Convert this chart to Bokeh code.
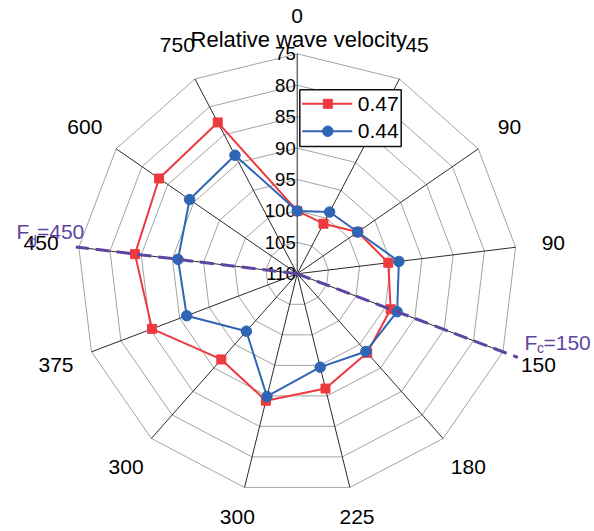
import numpy as np
from bokeh.plotting import figure
from bokeh.models import Range1d
from bokeh.embed import file_html
from bokeh.resources import INLINE
from bokeh.core.properties import value

# ---------------- data ----------------
categories = ["0", "45", "90", "90", "150", "180", "225", "300", "300", "375", "450", "600", "750"]
series_047 = [100.0, 101.0, 98.3, 95.4, 94.1, 93.2, 91.2, 89.2, 91.8, 85.3, 84.0, 83.3, 82.8]
series_044 = [100.0, 98.9, 98.3, 93.7, 93.0, 93.5, 94.7, 89.9, 97.8, 91.2, 90.9, 89.2, 88.7]
series_names = ["0.47", "0.44"]
radial_ticks = [75, 80, 85, 90, 95, 100, 105, 110]
radial_title = "Relative wave velocity"
fc_label, fc_value, fc_index = "c", "=150", 4
fd_label, fd_value, fd_index = "d", "=450", 10

# ---------------- layout / style ----------------
FONT = value("Liberation Sans")
W, H = 594, 531
CXP, CYP = 296.7, 273.3          # polar centre in page pixels
R = 220.0                         # outer radius (px)
R_OUT, R_IN = 75.0, 110.0         # reversed radial axis: 75 outside, 110 at centre
RED, BLUE = "#ee3a3e", "#2e66b5"
PURPLE = "#5f45a3"

def fx(px):
    return px - CXP

def fy(py):
    return CYP - py

def rad(v):
    return (R_IN - np.asarray(v, dtype=float)) / (R_IN - R_OUT) * R

n = len(categories)
theta = np.arange(n) * 2 * np.pi / n

def polar(r, th):
    return np.asarray(r) * np.sin(th), np.asarray(r) * np.cos(th)

p = figure(width=W, height=H,
           x_range=Range1d(fx(0), fx(0) + W), y_range=Range1d(fy(0) - H, fy(0)),
           output_backend="svg", toolbar_location=None,
           x_axis_location=None, y_axis_location=None,
           min_border=0, outline_line_color=None, background_fill_color="white")
p.grid.grid_line_color = None

# grid rings
for t in radial_ticks[:-1]:
    gx, gy = polar(np.full(n + 1, rad(t)), np.append(theta, theta[0]))
    p.line(gx, gy, line_color="#a3a3a3", line_width=1)

# spokes
sx, sy = polar(np.full(n, R), theta)
p.segment(x0=np.zeros(n), y0=np.zeros(n), x1=sx, y1=sy, line_color="#2a2a2a", line_width=1)

# radial tick labels along the top axis
p.text(x=np.full(len(radial_ticks), -1.5), y=rad(radial_ticks),
       text=[str(t) for t in radial_ticks], text_align="right", text_baseline="middle",
       text_font=FONT, text_font_size="18.5px", text_color="black")

# category labels (slightly closer for the two bottom labels so they stay inside)
label_r = np.where(np.cos(theta) < -0.9, 250.0, 258.0)
lx, ly = polar(label_r, theta)
p.text(x=lx, y=ly, text=categories, text_align="center", text_baseline="middle",
       text_font=FONT, text_font_size="21px", text_color="black")

# title of radial axis
p.text(x=[fx(298.3)], y=[fy(38.5)], text=[radial_title], text_align="center",
       text_baseline="middle", text_font=FONT, text_font_size="22px", text_color="black")

# series
for vals, col, mk, sz in ((series_047, RED, "square", 9), (series_044, BLUE, "circle", 10.5)):
    r = rad(vals)
    x, y = polar(np.append(r, r[0]), np.append(theta, theta[0]))
    p.line(x, y, line_color=col, line_width=2)
    mx, my = polar(r, theta)
    p.scatter(mx, my, marker=mk, size=sz, fill_color=col, line_color=col)

# dashed characteristic-frequency lines
for idx, rr in ((fd_index, 223.0), (fc_index, 236.0)):
    ex, ey = polar(rr, theta[idx])
    p.line([0, ex], [0, ey], line_color=PURPLE, line_width=3, line_dash="14 7")

# F_d label
p.text(x=[fx(16)], y=[fy(230.5)], text=["F"], text_align="left", text_baseline="alphabetic",
       text_font=FONT, text_font_size="21px", text_color=PURPLE)
p.text(x=[fx(28.5)], y=[fy(240)], text=[fd_label], text_align="left", text_baseline="alphabetic",
       text_font=FONT, text_font_size="14px", text_color=PURPLE)
p.text(x=[fx(36.5)], y=[fy(230.5)], text=[fd_value], text_align="left", text_baseline="alphabetic",
       text_font=FONT, text_font_size="21px", text_color=PURPLE)

# F_c label
p.text(x=[fx(524)], y=[fy(342)], text=["F"], text_align="left", text_baseline="alphabetic",
       text_font=FONT, text_font_size="21px", text_color=PURPLE)
p.text(x=[fx(536.5)], y=[fy(347)], text=[fc_label], text_align="left", text_baseline="alphabetic",
       text_font=FONT, text_font_size="14px", text_color=PURPLE)
p.text(x=[fx(543)], y=[fy(342)], text=[fc_value], text_align="left", text_baseline="alphabetic",
       text_font=FONT, text_font_size="21px", text_color=PURPLE)

# legend (drawn as glyphs)
p.quad(left=[fx(299.3)], right=[fx(400.7)], top=[fy(89.3)], bottom=[fy(146)],
       fill_color="white", line_color="#111111", line_width=1.5)
for i, (name, col, mk, sz) in enumerate(((series_names[0], RED, "square", 9),
                                         (series_names[1], BLUE, "circle", 10.5))):
    yy = fy(103.3 + i * 27.4)
    p.line([fx(301.7), fx(351.7)], [yy, yy], line_color=col, line_width=2)
    p.scatter([fx(327.3)], [yy], marker=mk, size=sz, fill_color=col, line_color=col)
    p.text(x=[fx(357.3)], y=[yy], text=[name], text_align="left", text_baseline="middle",
           text_font=FONT, text_font_size="21px", text_color="black")

open("out.html", "w").write(file_html(p, INLINE))
